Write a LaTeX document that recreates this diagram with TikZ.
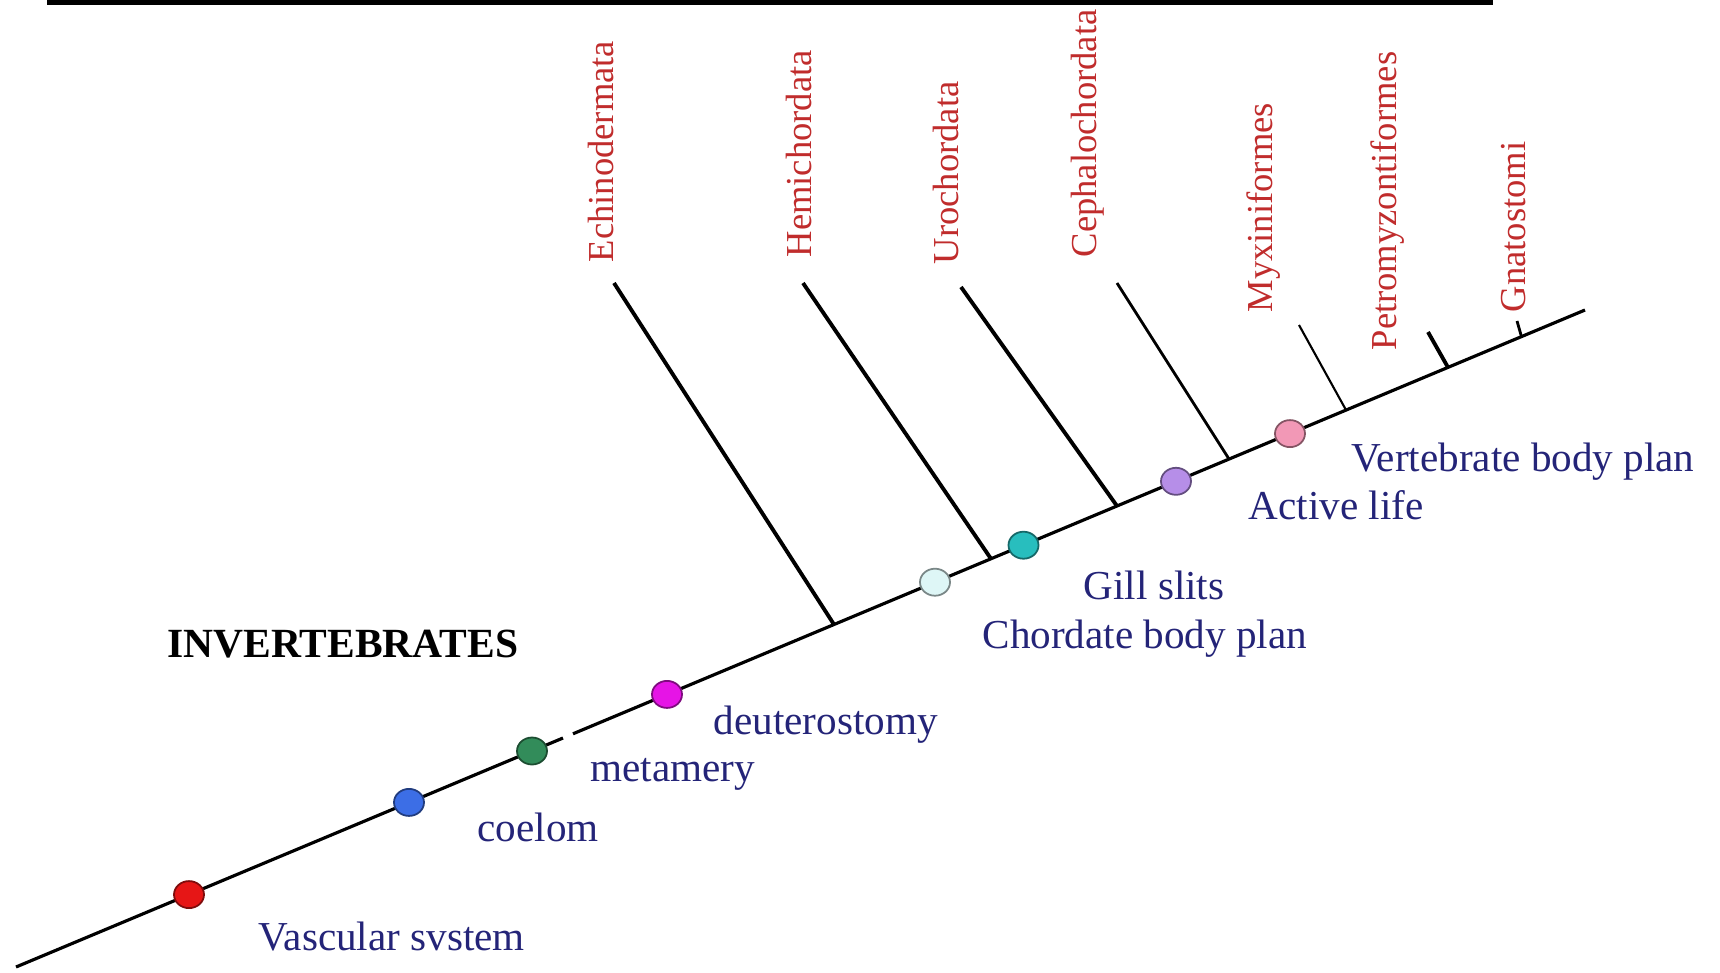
\documentclass[tikz,border=0pt]{standalone}
\usepackage{fontspec}
\setmainfont{Liberation Serif}
\usetikzlibrary{shapes.geometric}
\definecolor{taxonred}{RGB}{192,44,44}
\definecolor{traitblue}{RGB}{36,36,120}
\tikzset{
  dot/.style={ellipse,draw=#1!55!black,fill=#1,line width=0.5pt,inner sep=0pt,
    minimum width=0.3cm,minimum height=0.27cm},
  taxon/.style={rotate=90,anchor=west,inner sep=0pt,text=taxonred,
    font=\fontsize{10.4}{12}\selectfont},
  trait/.style={anchor=base west,inner sep=0pt,text=traitblue,
    font=\fontsize{11.7}{14}\selectfont},
  spine/.style={line width=0.9pt},
  branch/.style={line width=1.1pt}
}
\definecolor{vascred}{RGB}{230,22,22}
\definecolor{coelblue}{RGB}{60,110,230}
\definecolor{metagreen}{RGB}{50,140,90}
\definecolor{deutmag}{RGB}{230,20,230}
\definecolor{chordcyan}{RGB}{222,246,246}
\definecolor{gillteal}{RGB}{40,190,190}
\definecolor{activelav}{RGB}{182,142,232}
\definecolor{vertpink}{RGB}{242,152,182}
\begin{document}
\begin{tikzpicture}[x=0.01cm,y=-0.01cm]
  \useasboundingbox (0,0) rectangle (1720,972);
  \draw [line width=1.42pt] (47,2.5) -- (1493,2.5);

  \coordinate (root) at (16,967);
  \coordinate (tip) at (1585,310);
  \coordinate (gapa) at (563,738);
  \coordinate (gapb) at (573,733.8);
  \draw [spine] (root) -- (gapa) (gapb) -- (tip);

  \node [taxon] (echino) at (601,263) {Echinodermata};
  \node [taxon] (hemi) at (799,258) {Hemichordata};
  \node [taxon] (uro) at (946,265) {Urochordata};
  \node [taxon] (cephalo) at (1088,258) {Cephalochordata};
  \node [taxon] (myxini) at (1264,313) {Myxiniformes};
  \node [taxon] (petro) at (1388,351) {Petromyzontiformes};
  \node [taxon] (gnatho) at (1514,313) {Gnatostomi};

  \coordinate (echino-top) at (614,283);
  \coordinate (echino-base) at (834,624.5);
  \coordinate (hemi-top) at (803,283);
  \coordinate (hemi-base) at (991,558.8);
  \coordinate (uro-top) at (961,287);
  \coordinate (uro-base) at (1117,506);
  \coordinate (cephalo-top) at (1117,283);
  \coordinate (cephalo-base) at (1229,459);
  \coordinate (myxini-top) at (1299,325);
  \coordinate (myxini-base) at (1346,410);
  \coordinate (petro-top) at (1428,332);
  \coordinate (petro-base) at (1448,367.4);
  \coordinate (gnatho-top) at (1517,321);
  \coordinate (gnatho-base) at (1521.5,336.7);
  \draw [branch] (echino-top) -- (echino-base);
  \draw [branch] (hemi-top) -- (hemi-base);
  \draw [branch] (uro-top) -- (uro-base);
  \draw [line width=0.8pt] (cephalo-top) -- (cephalo-base);
  \draw [line width=0.6pt] (myxini-top) -- (myxini-base);
  \draw [branch] (petro-top) -- (petro-base);
  \draw [line width=0.8pt] (gnatho-top) -- (gnatho-base);

  \node [dot=vascred] (vasc) at (189,894.6) {};
  \node [dot=coelblue] (coel) at (409,802.4) {};
  \node [dot=metagreen] (meta) at (532,751) {};
  \node [dot=deutmag] (deut) at (667,694.4) {};
  \node [dot=chordcyan] (chord) at (935,582.2) {};
  \node [dot=gillteal] (gill) at (1023.5,545.2) {};
  \node [dot=activelav] (active) at (1176,481.3) {};
  \node [dot=vertpink] (vert) at (1290,433.6) {};

  \node [trait] (vasc-l) at (258,950) {Vascular svstem};
  \node [trait] (coel-l) at (477,841) {coelom};
  \node [trait] (meta-l) at (590,781) {metamery};
  \node [trait] (deut-l) at (713,734) {deuterostomy};
  \node [trait] (chord-l) at (982,648) {Chordate body plan};
  \node [trait] (gill-l) at (1083,599) {Gill slits};
  \node [trait] (active-l) at (1248,519) {Active life};
  \node [trait] (vert-l) at (1351,471) {Vertebrate body plan};

  \node [anchor=base west,inner sep=0pt,font=\fontsize{11.8}{14}\selectfont\bfseries]
    (invert) at (167,657) {INVERTEBRATES};
\end{tikzpicture}
\end{document}
